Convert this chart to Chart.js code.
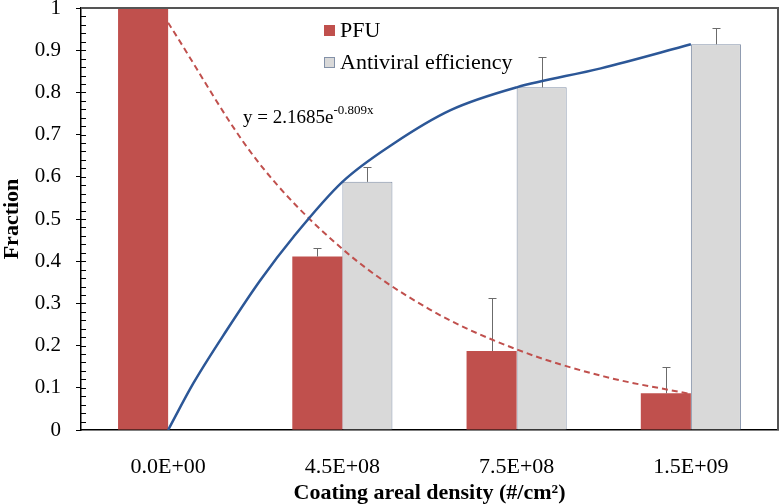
<!DOCTYPE html>
<html>
<head>
<meta charset="utf-8">
<script src="https://cdn.jsdelivr.net/npm/chart.js"></script>
<style>
  html, body { margin: 0; padding: 0; background: #fff; }
  .layer { width: 780px; height: 504px; position: absolute; left: 0; top: 0; }
</style>
</head>
<body>
<div class="layer"><canvas id="bars"></canvas></div>
<div class="layer"><canvas id="curves"></canvas></div>
<script>
// data
const categories = ['0.0E+00', '4.5E+08', '7.5E+08', '1.5E+09'];
const pfu = [1, 0.411, 0.187, 0.087];
const pfuErr = [0, 0.02, 0.125, 0.062];
const antiviral = [0, 0.588, 0.812, 0.914];
const antiviralErr = [null, 0.035, 0.071, 0.038];
// smoothed antiviral efficiency line (x = category position 1..4)
const effCurveX = [1, 1.145, 1.337, 1.529, 1.72, 2, 2.295, 2.621, 3, 3.483, 4];
const effCurveY = [0, 0.111, 0.237, 0.355, 0.458, 0.588, 0.679, 0.758, 0.812, 0.857, 0.914];
// exponential trendline of PFU (y = 2.1685e^-0.809x), points estimated from the plot
const trendX = [1, 1.5, 2, 2.5, 3, 3.5, 4];
const trendY = [0.965, 0.644, 0.429, 0.286, 0.191, 0.127, 0.085];
const yTicks = [0, 0.1, 0.2, 0.3, 0.4, 0.5, 0.6, 0.7, 0.8, 0.9, 1];

const SERIF = '"Liberation Serif", "Times New Roman", serif';
const RED = '#c0504d';
const GRAY = '#d9d9d9';
const GRAY_EDGE = '#8391a8';
const BLUE = '#2c5797';

// plot box shared by both layers
const PAD = { left: 81, right: 2, top: 8, bottom: 74 };

const extras = {
    id: 'extras',
    afterDatasetDraw(chart, args) {
        // error bars (upper side only)
        const errs = args.index === 0 ? pfuErr : antiviralErr;
        const vals = args.index === 0 ? pfu : antiviral;
        const ctx = chart.ctx;
        const y = chart.scales.y;
        ctx.save();
        ctx.strokeStyle = '#6b6b6b';
        ctx.lineWidth = 1;
        args.meta.data.forEach((bar, i) => {
            if (errs[i] == null) return;
            const x = Math.round(bar.x) + 0.5;
            const y0 = y.getPixelForValue(vals[i]);
            const y1 = Math.round(y.getPixelForValue(vals[i] + errs[i])) + 0.5;
            ctx.beginPath();
            ctx.moveTo(x, y0);
            ctx.lineTo(x, y1);
            ctx.moveTo(x - 4, y1);
            ctx.lineTo(x + 4, y1);
            ctx.stroke();
        });
        ctx.restore();
    },
    afterDraw(chart) {
        const ctx = chart.ctx;
        const a = chart.chartArea;
        const y = chart.scales.y;
        ctx.save();

        // top and right frame
        ctx.strokeStyle = '#555';
        ctx.lineWidth = 2;
        ctx.beginPath();
        ctx.moveTo(a.left, a.top);
        ctx.lineTo(a.right, a.top);
        ctx.lineTo(a.right, a.bottom);
        ctx.stroke();

        // minor ticks inside the y axis
        ctx.strokeStyle = '#000';
        ctx.lineWidth = 1;
        ctx.beginPath();
        for (let k = 1; k < 50; k++) {
            const py = Math.round(y.getPixelForValue(k * 0.02)) + 0.5;
            ctx.moveTo(a.left, py);
            ctx.lineTo(a.left + 5, py);
        }
        ctx.stroke();

        // axis titles
        ctx.fillStyle = '#000';
        ctx.font = 'bold 22px ' + SERIF;
        ctx.textAlign = 'center';
        ctx.textBaseline = 'middle';
        ctx.fillText('Coating areal density (#/cm²)', (a.left + a.right) / 2, 493);
        ctx.save();
        ctx.translate(12, (a.top + a.bottom) / 2);
        ctx.rotate(-Math.PI / 2);
        ctx.fillText('Fraction', 0, 0);
        ctx.restore();

        // legend
        ctx.fillStyle = RED;
        ctx.fillRect(324, 25, 11, 11);
        ctx.fillStyle = GRAY;
        ctx.fillRect(324.5, 57.5, 10, 10);
        ctx.strokeStyle = GRAY_EDGE;
        ctx.strokeRect(324.5, 57.5, 10, 10);
        ctx.fillStyle = '#000';
        ctx.font = '22px ' + SERIF;
        ctx.textAlign = 'left';
        ctx.textBaseline = 'alphabetic';
        ctx.fillText('PFU', 340, 37);
        ctx.fillText('Antiviral efficiency', 340, 69);

        // trendline equation
        ctx.font = '19px ' + SERIF;
        const eq = 'y = 2.1685e';
        ctx.fillText(eq, 243, 123);
        const w = ctx.measureText(eq).width;
        ctx.font = '13px ' + SERIF;
        ctx.fillText('-0.809x', 243 + w, 114);

        ctx.restore();
    }
};

// bars, axes and annotations
new Chart(document.getElementById('bars'), {
    type: 'bar',
    data: {
        labels: categories,
        datasets: [
            {
                label: 'PFU',
                data: pfu,
                backgroundColor: RED,
                borderWidth: 0,
                categoryPercentage: 100 / 174,
                barPercentage: 1
            },
            {
                label: 'Antiviral efficiency',
                data: antiviral,
                backgroundColor: GRAY,
                borderColor: GRAY_EDGE,
                borderWidth: 1,
                categoryPercentage: 100 / 174,
                barPercentage: 1
            }
        ]
    },
    options: {
        responsive: true,
        maintainAspectRatio: false,
        animation: false,
        layout: { padding: { top: PAD.top, right: PAD.right, left: 0, bottom: 0 } },
        plugins: {
            legend: { display: false },
            tooltip: { enabled: false }
        },
        scales: {
            x: {
                grid: { display: false },
                border: { display: true, color: '#000', width: 1.5 },
                ticks: {
                    color: '#000',
                    font: { family: SERIF, size: 22 },
                    padding: 16,
                    maxRotation: 0
                },
                afterFit: (s) => {
                    s.height = PAD.bottom;
                    s.paddingLeft = 0;
                    s.paddingRight = 0;
                }
            },
            y: {
                min: 0,
                max: 1,
                afterBuildTicks: (s) => { s.ticks = yTicks.map(v => ({ value: v })); },
                grid: { drawOnChartArea: false, drawTicks: true, tickLength: 5, color: '#000' },
                border: { display: true, color: '#000', width: 1.5 },
                ticks: {
                    color: '#000',
                    font: { family: SERIF, size: 21 },
                    padding: 15,
                    callback: (v) => String(Math.round(v * 10) / 10)
                },
                afterFit: (s) => {
                    s.width = PAD.left;
                    s.paddingTop = 0;
                    s.paddingBottom = 0;
                }
            }
        }
    },
    plugins: [extras]
});

// smoothed efficiency line and PFU trendline, on the same plot box
new Chart(document.getElementById('curves'), {
    type: 'line',
    data: {
        datasets: [
            {
                label: 'Antiviral curve',
                data: effCurveX.map((x, i) => ({ x: x, y: effCurveY[i] })),
                borderColor: BLUE,
                borderWidth: 2.5,
                pointRadius: 0,
                cubicInterpolationMode: 'monotone',
                fill: false
            },
            {
                label: 'Expon. (PFU)',
                data: trendX.map((x, i) => ({ x: x, y: trendY[i] })),
                borderColor: RED,
                borderWidth: 2,
                borderDash: [6, 4],
                pointRadius: 0,
                cubicInterpolationMode: 'monotone',
                fill: false
            }
        ]
    },
    options: {
        responsive: true,
        maintainAspectRatio: false,
        animation: false,
        layout: { padding: PAD },
        plugins: {
            legend: { display: false },
            tooltip: { enabled: false }
        },
        scales: {
            x: { type: 'linear', display: false, min: 0.5, max: 4.5 },
            y: { type: 'linear', display: false, min: 0, max: 1 }
        }
    }
});
</script>
</body>
</html>
